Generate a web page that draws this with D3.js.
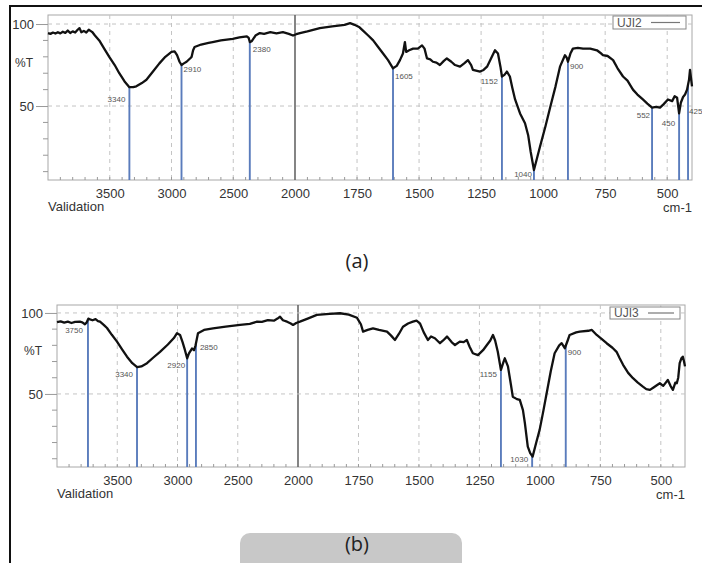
<!DOCTYPE html>
<html>
<head>
<meta charset="utf-8">
<script src="https://cdn.jsdelivr.net/npm/d3@7"></script>
<style>
  html, body { margin: 0; padding: 0; background: #fff; }
  svg { display: block; font-family: "Liberation Sans", Arial, sans-serif; }
</style>
</head>
<body>
<svg id="chart" width="702" height="563"></svg>
<script>
// ---------------- DATA ----------------
const xTickValues = [3500, 3000, 2500, 2000, 1750, 1500, 1250, 1000, 750, 500];
const yTickMajor = [100, 50];
const yTickMinor = [90, 80, 70, 60, 40, 30, 20, 10];

// Spectrum (a) UJI2 : wavenumber (cm-1) and %T
const uji2Wn = [4000,3980,3960,3940,3920,3900,3880,3860,3840,3820,3800,3780,3760,3745,3730,3710,3690,3670,3650,3640,3620,3585,3545,3504,3460,3423,3380,3341,3310,3285,3240,3203,3150,3098,3050,3000,2975,2955,2935,2919,2900,2878,2850,2837,2825,2813,2760,2700,2667,2600,2504,2450,2390,2375,2366,2350,2320,2285,2250,2200,2150,2098,2050,2016,1995,1980,1950,1900,1850,1800,1778,1760,1740,1726,1705,1685,1665,1645,1625,1605,1590,1577,1565,1557,1552,1540,1524,1505,1488,1478,1468,1455,1444,1430,1416,1400,1388,1370,1355,1335,1318,1303,1290,1283,1254,1240,1226,1210,1194,1182,1172,1166,1156,1146,1134,1124,1113,1093,1073,1060,1050,1037,1025,1013,990,972,950,932,912,905,900,890,880,860,839,810,783,770,759,740,718,700,678,660,638,620,598,580,561,545,529,515,497,480,470,460,452,445,436,428,420,412,408,400];
const uji2T  = [94.5,94,94.8,94.2,95,94.3,95.3,94.6,96,94.5,95.5,94.8,96.5,97.5,95,95.8,94.8,96.5,95.5,95,93,90,85,80,75,70,65,61.5,61.5,62,64,66,71,76,80,83,83.3,81,77,75,76,77,79,80,84,86,87.5,88.5,89,90,91,91.8,92.5,91.5,89,89.5,93,94.5,94,95,94.3,95,94,93,93.8,94.5,95.5,97.5,98.5,99.5,100.5,99.5,98,96,93,90,86,82,78,73,74.5,78,82,89,83,84,85,85,87,85,79,78.5,77,76.5,75,77.5,79,77,75,74,76,78,75,72,71,72,74,79,84,82,74,68,69,71,68,61,54,45.5,39.5,32,22,11,18,25,38,49,62,74,81,79.5,77,82,85,85.5,85,85,84,82.5,81,80.5,78,73,68,65.5,60,57,54,51.5,49,49.5,49,51,54,53,56,55,45.5,52,55.5,57,60,66,72,62];

// Spectrum (b) UJI3
const uji3Wn = [4000,3970,3940,3910,3880,3850,3810,3790,3768,3755,3740,3726,3705,3680,3660,3643,3610,3585,3545,3502,3460,3419,3375,3335,3300,3253,3200,3145,3080,3030,3004,2979,2958,2938,2920,2905,2880,2870,2863,2850,2830,2780,2705,2600,2481,2400,2340,2300,2250,2200,2170,2149,2125,2091,2060,2041,2015,1992,1960,1922,1870,1826,1790,1756,1740,1731,1712,1690,1665,1632,1615,1599,1583,1566,1545,1525,1510,1496,1480,1463,1450,1434,1413,1400,1384,1365,1351,1331,1315,1302,1290,1277,1256,1235,1219,1205,1194,1185,1174,1161,1150,1145,1132,1120,1112,1095,1083,1070,1062,1050,1040,1030,1015,1001,985,972,955,939,920,910,897,885,877,850,835,800,785,765,745,724,700,683,670,656,635,615,595,574,560,545,530,515,504,490,471,460,450,440,434,428,422,415,409,404,400];
const uji3T  = [94.3,94.8,94,94.6,93.8,94.5,94.6,94.2,93,94,96.5,96,95.5,96.2,95,94.6,92.5,90.7,86.5,82.3,77.5,73,69,66.5,67,69,72.5,76,80.5,84.5,87.5,86.4,82,77,72,75,78,77.5,77,80,87.5,89.5,90.5,91.5,92.6,93.2,94.6,94.5,95.5,95.2,96.5,97.7,95.5,94.6,93.5,92.6,93.8,94.6,96.5,98.8,99.4,99.8,99,97,93,88.5,89.5,90.5,89.5,88.5,86,83.3,87,91.5,93.5,94.6,95.3,93.6,88,83.3,85.5,84.4,81.3,83,85.4,82,80.2,82.3,82,83.3,79,75.1,74,77,80.2,83,86.4,83,76,64.8,70,72,67,56,48.3,46.8,46.3,40,32,17.5,13.5,11.3,20,27.8,40,50.4,64,75.1,80,81.3,78.2,83,86.4,88,88.5,89,89.5,86.4,84,81.3,78.5,76,72,68,63,59.7,57,54.5,53,52.5,54,55.5,56.6,55,58.6,55,52.5,57,56.6,60,69,72,73,70,67];

// Marked peaks: label text and marker position (cm-1)
const uji2PeakLabels = ["3340","2910","2380","1605","1152","1040","900","552","450","425"];
const uji2PeakPos    = [3341, 2919, 2366, 1605, 1166, 1037, 900, 561, 452, 416];
const uji3PeakLabels = ["3750","3340","2920","2850","1155","1030","900"];
const uji3PeakPos    = [3743, 3336, 2920, 2847, 1161, 1032, 893];

// ---------------- LAYOUT / STYLE ----------------
const panels = [
  { name: "UJI2", wn: uji2Wn, t: uji2T, peakLabels: uji2PeakLabels, peakPos: uji2PeakPos,
    left: 48, right: 692, x2000: 295, top: 15, bottom: 180, yDom: [4.9, 105.5],
    legend: { x: 613, y: 16, w: 73, h: 13 }, caption: "(a)", captionY: 268,
    labelPlace: [ {a:"end",dx:-4,dy:12}, {a:"start",dx:2,dy:4}, {a:"start",dx:3,dy:7}, {a:"start",dx:2,dy:8},
                  {a:"end",dx:-4,dy:4}, {a:"end",dx:-2,dy:4}, {a:"start",dx:2,dy:4}, {a:"end",dx:-2,dy:7},
                  {a:"end",dx:-4,dy:10}, {a:"start",dx:1,dy:26} ] },
  { name: "UJI3", wn: uji3Wn, t: uji3T, peakLabels: uji3PeakLabels, peakPos: uji3PeakPos,
    left: 57, right: 685, x2000: 298, top: 305, bottom: 467, yDom: [4.9, 104.9],
    legend: { x: 610, y: 307, w: 70, h: 12 }, caption: "(b)", captionY: 551,
    labelPlace: [ {a:"end",dx:-5,dy:11}, {a:"end",dx:-4,dy:7}, {a:"end",dx:-2,dy:7}, {a:"start",dx:4,dy:3},
                  {a:"end",dx:-4,dy:4}, {a:"end",dx:-4,dy:3}, {a:"start",dx:2,dy:6} ] }
];

const svg = d3.select("#chart");

// caption box and outer frame (top and left)
svg.append("rect").attr("x", 240).attr("y", 533).attr("width", 222).attr("height", 50)
  .attr("rx", 10).attr("fill", "#c8c8c8");
svg.append("path").attr("d", "M10,563 L10,6 L702,6").attr("fill", "none")
  .attr("stroke", "#111").attr("stroke-width", 2);

panels.forEach(p => {
  const x = d3.scaleLinear().domain([4000, 2000, 400]).range([p.left, p.x2000, p.right]);
  const y = d3.scaleLinear().domain(p.yDom).range([p.bottom, p.top]);
  const g = svg.append("g");

  // plot border
  g.append("rect").attr("x", p.left).attr("y", p.top)
    .attr("width", p.right - p.left).attr("height", p.bottom - p.top)
    .attr("fill", "none").attr("stroke", "#a8a8a8").attr("stroke-width", 1);

  // grid
  xTickValues.forEach(v => {
    g.append("line").attr("x1", x(v)).attr("x2", x(v)).attr("y1", p.top).attr("y2", p.bottom)
      .attr("stroke", v === 2000 ? "#666" : "#c4c4c4")
      .attr("stroke-width", v === 2000 ? 1.6 : 1)
      .attr("stroke-dasharray", v === 2000 ? null : "4,4");
  });
  yTickMajor.forEach(v => {
    g.append("line").attr("x1", p.left).attr("x2", p.right).attr("y1", y(v)).attr("y2", y(v))
      .attr("stroke", "#c4c4c4").attr("stroke-dasharray", "4,4");
  });

  // x axis: minor ticks inside + labels
  const minor = d3.range(3900, 2000, -100).concat(d3.range(1950, 400, -50));
  minor.forEach(v => {
    g.append("line").attr("x1", x(v)).attr("x2", x(v)).attr("y1", p.bottom).attr("y2", p.bottom - 3)
      .attr("stroke", "#999");
  });
  const xAxis = d3.axisBottom(x).tickValues(xTickValues).tickSize(0).tickPadding(0).tickFormat(d3.format("d"));
  const xa = g.append("g").attr("transform", `translate(0,${p.bottom})`).call(xAxis);
  xa.select(".domain").remove();
  xa.selectAll("text").attr("dy", "18px").attr("font-size", 13).attr("fill", "#333")
    .attr("font-family", "'Liberation Sans', Arial, sans-serif");

  // y axis
  const yAxis = d3.axisLeft(y).tickValues(yTickMajor).tickSize(12).tickPadding(2).tickFormat(d3.format("d"));
  const ya = g.append("g").attr("transform", `translate(${p.left},0)`).call(yAxis);
  ya.select(".domain").remove();
  ya.selectAll("line").attr("stroke", "#999");
  ya.selectAll("text").attr("font-size", 13).attr("fill", "#333")
    .attr("font-family", "'Liberation Sans', Arial, sans-serif");
  yTickMinor.forEach(v => {
    g.append("line").attr("x1", p.left - 5).attr("x2", p.left).attr("y1", y(v)).attr("y2", y(v))
      .attr("stroke", "#999");
  });
  g.append("text").attr("x", p.left - 33).attr("y", (y(100) + y(50)) / 2 + 2)
    .attr("font-size", 12).attr("fill", "#333").text("%T");

  g.append("text").attr("x", p.left).attr("y", p.bottom + 31).attr("font-size", 13)
    .attr("fill", "#333").text("Validation");
  g.append("text").attr("x", p.right).attr("y", p.bottom + 32).attr("font-size", 13)
    .attr("text-anchor", "end").attr("fill", "#333").text("cm-1");

  // peak markers
  const interp = w => {
    for (let i = 0; i < p.wn.length - 1; i++) {
      if (w <= p.wn[i] && w >= p.wn[i + 1]) {
        const f = (p.wn[i] - w) / (p.wn[i] - p.wn[i + 1]);
        return p.t[i] + f * (p.t[i + 1] - p.t[i]);
      }
    }
    return p.t[p.t.length - 1];
  };
  p.peakPos.forEach((w, i) => {
    const yt = y(interp(w));
    g.append("line").attr("x1", x(w)).attr("x2", x(w)).attr("y1", yt).attr("y2", p.bottom)
      .attr("stroke", "#5a7cbc").attr("stroke-width", 1.9);
    const lp = p.labelPlace[i];
    g.append("text").attr("x", x(w) + lp.dx).attr("y", yt + lp.dy + 3)
      .attr("text-anchor", lp.a).attr("font-size", 8).attr("fill", "#555")
      .text(p.peakLabels[i]);
  });

  // spectrum
  const line = d3.line().x((d, i) => x(p.wn[i])).y((d, i) => y(p.t[i])).curve(d3.curveLinear);
  g.append("path").datum(p.t).attr("d", line).attr("fill", "none")
    .attr("stroke", "#111").attr("stroke-width", 2.3).attr("stroke-linejoin", "round");

  // legend
  const L = p.legend;
  g.append("rect").attr("x", L.x).attr("y", L.y).attr("width", L.w).attr("height", L.h)
    .attr("fill", "#fff").attr("stroke", "#888");
  g.append("text").attr("x", L.x + 4).attr("y", L.y + L.h - 2).attr("font-size", 12)
    .attr("fill", "#555").text(p.name);
  g.append("line").attr("x1", L.x + 38).attr("x2", L.x + L.w - 6)
    .attr("y1", L.y + L.h / 2).attr("y2", L.y + L.h / 2).attr("stroke", "#777").attr("stroke-width", 1.2);

  svg.append("text").attr("x", 357).attr("y", p.captionY).attr("text-anchor", "middle")
    .attr("font-size", 20).attr("fill", "#222").attr("font-family", "'Open Sans', 'Liberation Sans', sans-serif")
    .text(p.caption);
});
</script>
</body>
</html>
